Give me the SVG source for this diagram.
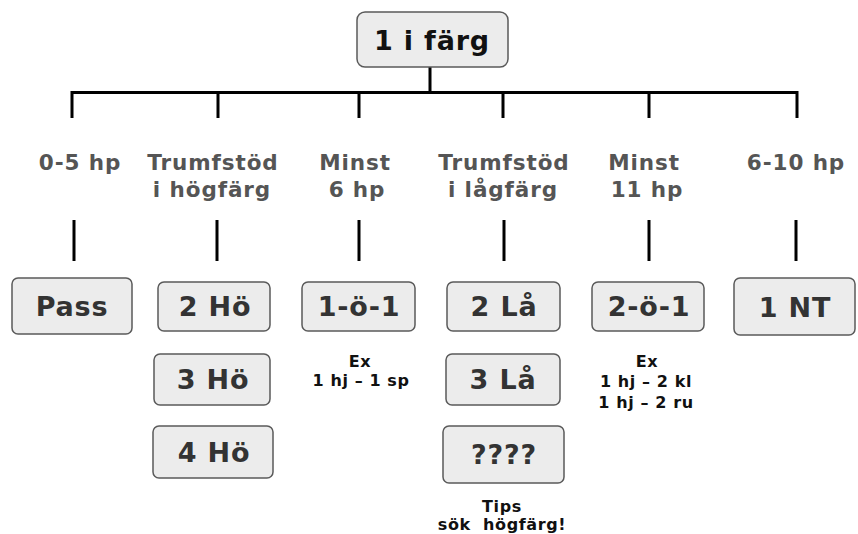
<svg xmlns="http://www.w3.org/2000/svg" width="858" height="534" viewBox="0 0 858 534">
<style>
  .box { fill: #ececec; stroke: #5a5a5a; stroke-width: 1.5; }
  .bt { font-family: "DejaVu Sans", Verdana, sans-serif; font-weight: bold; font-size: 27px; fill: #333; text-anchor: middle; letter-spacing: 0.8px; }
  .root { fill: #111; }
  .lbl { font-family: "DejaVu Sans", Verdana, sans-serif; font-weight: bold; font-size: 21.5px; fill: #555; text-anchor: middle; letter-spacing: 0.9px; }
  .note { font-family: "DejaVu Sans", Verdana, sans-serif; font-weight: bold; font-size: 16px; fill: #111; text-anchor: middle; letter-spacing: 0.6px; }
  .conn { stroke: #000; stroke-width: 3; fill: none; }
</style>
<rect width="858" height="534" fill="#fff"/>
<g id="connectors">
  <path class="conn" d="M430,67 V92.5 M72,118 V92.5 H797 V118 M218,92.5 V118 M359,92.5 V118 M503,92.5 V118 M649,92.5 V118"/>
  <path class="conn" d="M74,220 V261 M217,220 V261 M359,220 V261 M504,220 V261 M649,220 V261 M796,220 V261"/>
</g>
<g id="root">
  <rect class="box" x="357" y="12" width="151" height="55" rx="8"/>
  <text class="bt root" x="432" y="50">1 i färg</text>
</g>
<g id="labels">
  <text class="lbl" x="80" y="170">0-5 hp</text>
  <text class="lbl" x="213" y="170">Trumfstöd</text>
  <text class="lbl" x="212" y="197">i högfärg</text>
  <text class="lbl" x="355" y="170">Minst</text>
  <text class="lbl" x="357" y="197">6 hp</text>
  <text class="lbl" x="504" y="170">Trumfstöd</text>
  <text class="lbl" x="503" y="197">i lågfärg</text>
  <text class="lbl" x="644" y="170">Minst</text>
  <text class="lbl" x="647" y="197">11 hp</text>
  <text class="lbl" x="796" y="170">6-10 hp</text>
</g>
<g id="pass">
  <rect class="box" x="12" y="278" width="120" height="56" rx="6"/>
  <text class="bt" x="72" y="316">Pass</text>
</g>
<g id="hoe2">
  <rect class="box" x="158" y="282" width="112" height="49" rx="6"/>
  <text class="bt" x="215" y="316">2 Hö</text>
</g>
<g id="hoe3">
  <rect class="box" x="154" y="354" width="116" height="51" rx="6"/>
  <text class="bt" x="213" y="389">3 Hö</text>
</g>
<g id="hoe4">
  <rect class="box" x="153" y="426" width="120" height="52" rx="6"/>
  <text class="bt" x="214" y="462">4 Hö</text>
</g>
<g id="oe1">
  <rect class="box" x="302" y="282" width="113" height="49" rx="6"/>
  <text class="bt" x="359" y="316">1-ö-1</text>
</g>
<g id="note1">
  <text class="note" x="360" y="367">Ex</text>
  <text class="note" x="361" y="386">1 hj – 1 sp</text>
</g>
<g id="la2">
  <rect class="box" x="447" y="282" width="113" height="49" rx="6"/>
  <text class="bt" x="504" y="316">2 Lå</text>
</g>
<g id="la3">
  <rect class="box" x="446" y="354" width="114" height="51" rx="6"/>
  <text class="bt" x="503" y="389">3 Lå</text>
</g>
<g id="unknown">
  <rect class="box" x="443" y="426" width="121" height="57" rx="6"/>
  <text class="bt" x="504" y="464">????</text>
</g>
<g id="tips">
  <text class="note" x="502" y="512">Tips</text>
  <text class="note" x="502" y="530" xml:space="preserve">sök  högfärg!</text>
</g>
<g id="oe2">
  <rect class="box" x="592" y="282" width="112" height="49" rx="6"/>
  <text class="bt" x="649" y="316">2-ö-1</text>
</g>
<g id="note2">
  <text class="note" x="647" y="367">Ex</text>
  <text class="note" x="646" y="387">1 hj – 2 kl</text>
  <text class="note" x="646" y="408">1 hj – 2 ru</text>
</g>
<g id="nt1">
  <rect class="box" x="734" y="278" width="121" height="57" rx="6"/>
  <text class="bt" x="795" y="317">1 NT</text>
</g>
</svg>
